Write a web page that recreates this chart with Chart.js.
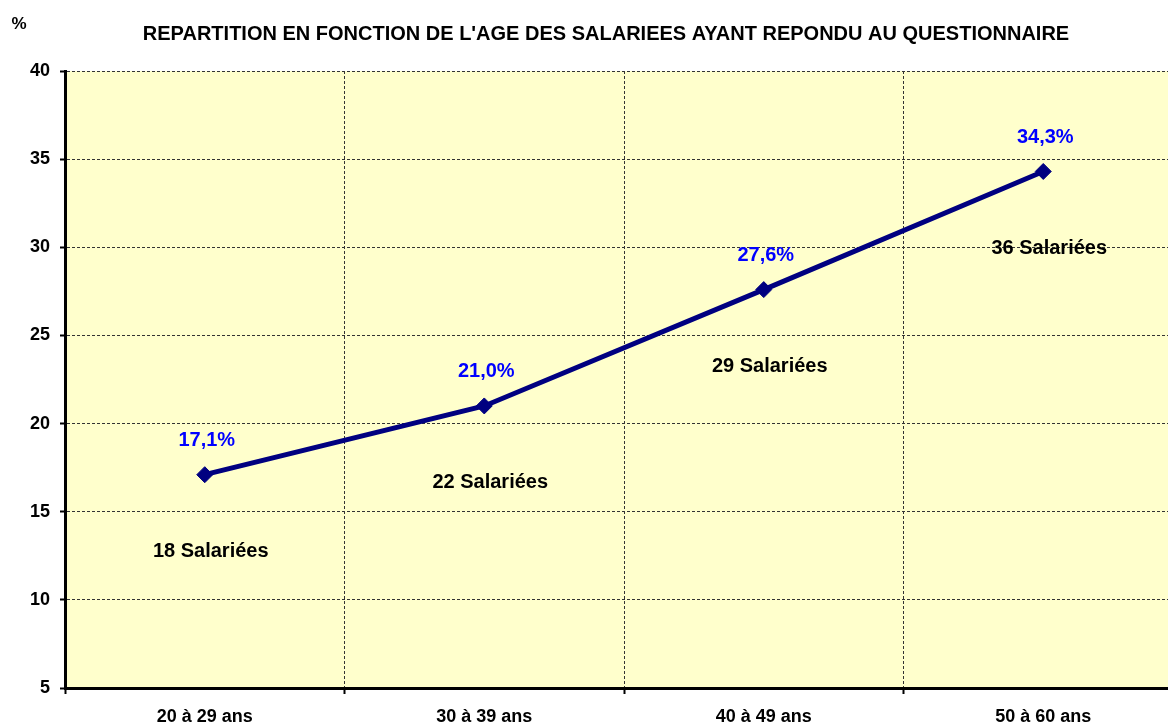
<!DOCTYPE html>
<html>
<head>
<meta charset="utf-8">
<script src="https://cdn.jsdelivr.net/npm/chart.js@4/dist/chart.umd.min.js"></script>
<style>
  html, body { margin: 0; padding: 0; background: #fff; overflow: hidden; }
  #wrap { width: 1192px; height: 724px; position: relative; }
</style>
</head>
<body>
<div id="wrap"><canvas id="ageChart"></canvas></div>
<script>
const categories = ["20 à 29 ans", "30 à 39 ans", "40 à 49 ans", "50 à 60 ans"];
const percents = [17.1, 21.0, 27.6, 34.3];
const employees = [18, 22, 29, 36];
const yTicks = [5, 10, 15, 20, 25, 30, 35, 40];

const titleText = "REPARTITION EN FONCTION DE L'AGE DES SALARIEES AYANT REPONDU AU QUESTIONNAIRE";
const fontFamily = "'Liberation Sans', Arial, sans-serif";

// fond jaune de la zone de tracé + titre et libellés
const decorPlugin = {
    id: "decor",
    beforeDraw(chart) {
        const { ctx, chartArea } = chart;
        ctx.save();
        ctx.fillStyle = "#FFFFCC";
        ctx.fillRect(chartArea.left, chartArea.top, chartArea.right - chartArea.left, chartArea.bottom - chartArea.top);
        ctx.restore();
    },
    afterDraw(chart) {
        const { ctx } = chart;
        ctx.save();
        ctx.fillStyle = "#000";
        ctx.textAlign = "center";
        ctx.textBaseline = "middle";
        ctx.font = "bold 20px " + fontFamily;
        ctx.fillText(titleText, 606, 34);
        ctx.font = "bold 17px " + fontFamily;
        ctx.fillText("%", 19, 24);

        const meta = chart.getDatasetMeta(0);
        meta.data.forEach((pt, i) => {
            ctx.fillStyle = "#0000FF";
            ctx.font = "bold 20px " + fontFamily;
            ctx.fillText(percents[i].toFixed(1).replace(".", ",") + "%", pt.x + 2, pt.y - 34);
            ctx.fillStyle = "#000";
            ctx.font = "bold 20px " + fontFamily;
            ctx.fillText(employees[i] + " Salariées", pt.x + 6, pt.y + 77);
        });
        ctx.restore();
    },
};

const ctx = document.getElementById("ageChart").getContext("2d");
const ageChart = new Chart(ctx, {
    type: "line",
    data: {
        labels: categories,
        datasets: [
            {
                data: percents,
                borderColor: "#000080",
                backgroundColor: "#000080",
                borderWidth: 5,
                pointStyle: "rectRot",
                pointRadius: 8,
                pointBorderWidth: 1,
                pointBorderColor: "#000080",
                pointBackgroundColor: "#000080",
                tension: 0,
                fill: false,
            },
        ],
    },
    plugins: [decorPlugin],
    options: {
        responsive: true,
        maintainAspectRatio: false,
        animation: false,
        layout: { padding: { top: 71, right: 0, left: 0, bottom: 0 } },
        plugins: {
            legend: { display: false },
            title: { display: false },
            tooltip: { enabled: false },
        },
        scales: {
            x: {
                type: "category",
                offset: true,
                afterFit(scale) { scale.height = 36; },
                grid: {
                    offset: true,
                    color: "#333",
                    lineWidth: 1,
                    drawTicks: true,
                    tickLength: 6,
                    tickColor: "#000",
                    tickWidth: 2,
                },
                border: { display: true, color: "#000", width: 3, dash: [3, 2] },
                ticks: {
                    color: "#000",
                    padding: 12,
                    font: { family: fontFamily, size: 18, weight: "bold" },
                    maxRotation: 0,
                },
            },
            y: {
                min: 5,
                max: 40,
                afterFit(scale) { scale.width = 65; },
                afterBuildTicks(scale) { scale.ticks = yTicks.map((v) => ({ value: v })); },
                grid: {
                    color: "#333",
                    lineWidth: 1,
                    drawTicks: true,
                    tickLength: 5,
                    tickColor: "#000",
                    tickWidth: 2,
                },
                border: { display: true, color: "#000", width: 3, dash: [3, 2] },
                ticks: {
                    color: "#000",
                    padding: 10,
                    font: { family: fontFamily, size: 18, weight: "bold" },
                },
            },
        },
    },
});
</script>
</body>
</html>
